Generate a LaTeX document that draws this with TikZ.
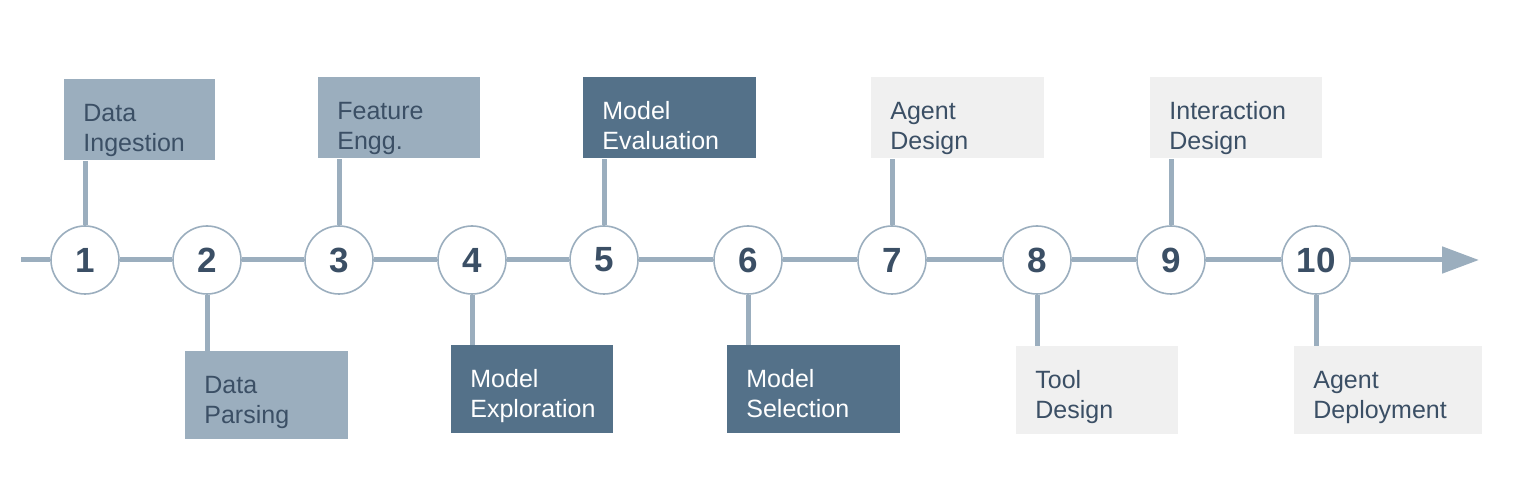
\documentclass[tikz,border=0pt]{standalone}
\usepackage{fontspec}
\setmainfont{Liberation Sans}
\usetikzlibrary{arrows.meta, positioning, calc}
\definecolor{lineblue}{HTML}{9BAEBE}
\definecolor{slate}{HTML}{547189}
\definecolor{palegray}{HTML}{F0F0F0}
\definecolor{inkdark}{HTML}{3B4F65}
\tikzset{
  stage/.style={circle, draw=lineblue, line width=0.8pt, fill=white, minimum size=34pt,
    inner sep=0pt, font=\bfseries\fontsize{17.5}{20}\selectfont, text=inkdark},
  phase/.style={anchor=north west, inner xsep=9.5pt, inner ysep=0pt, text width=#1,
    align=left, font=\fontsize{12.5}{15}\selectfont, text height=21pt},
  upper/.style={text depth=19.5pt},
  lower/.style={text depth=23pt},
  lightbox/.style={fill=lineblue, text=inkdark},
  darkbox/.style={fill=slate, text=white},
  palebox/.style={fill=palegray, text=inkdark},
  track/.style={draw=lineblue, line width=2.5pt},
}

\begin{document}
\begin{tikzpicture}[x=0.5pt, y=-0.5pt]
  \useasboundingbox (0,0) rectangle (1538,502);
  \coordinate (start) at (21,260);
  \coordinate (end) at (1479,260);
  \foreach \i/\cx in {1/85, 2/207, 3/339, 4/472, 5/604, 6/748, 7/892, 8/1037, 9/1171, 10/1316}
    \node[stage] (c\i) at (\cx,260) {\i};
  \foreach \i/\bx/\by/\tw/\look/\txt in {
      1/64/79/56.5/lightbox/{Data\\Ingestion},
      3/318/77/62/lightbox/{Feature\\Engg.},
      5/583/77/67.5/darkbox/{Model\\Evaluation},
      7/871/77/67.5/palebox/{Agent\\Design},
      9/1150/77/67/palebox/{Interaction\\Design}} {
    \node[phase=\tw pt, upper, \look] (b\i) at (\bx,\by) {\txt};
    \draw[track] (c\i.north) -- (c\i.north |- b\i.south);
  }
  \foreach \i/\bx/\by/\tw/\look/\txt in {
      2/185/351/62.5/lightbox/{Data\\Parsing},
      4/451/345/62/darkbox/{Model\\Exploration},
      6/727/345/67.5/darkbox/{Model\\Selection},
      8/1016/346/62/palebox/{Tool\\Design},
      10/1294/346/75/palebox/{Agent\\Deployment}} {
    \node[phase=\tw pt, lower, \look] (b\i) at (\bx,\by) {\txt};
    \draw[track] (c\i.south) -- (c\i.south |- b\i.north);
  }
  \draw[track] (start) -- (c1);
  \foreach \i [evaluate=\i as \j using int(\i+1)] in {1,...,9}
    \draw[track] (c\i) -- (c\j);
  \draw[track, -{Triangle[length=18.5pt, width=13pt]}] (c10) -- (end);
\end{tikzpicture}
\end{document}
